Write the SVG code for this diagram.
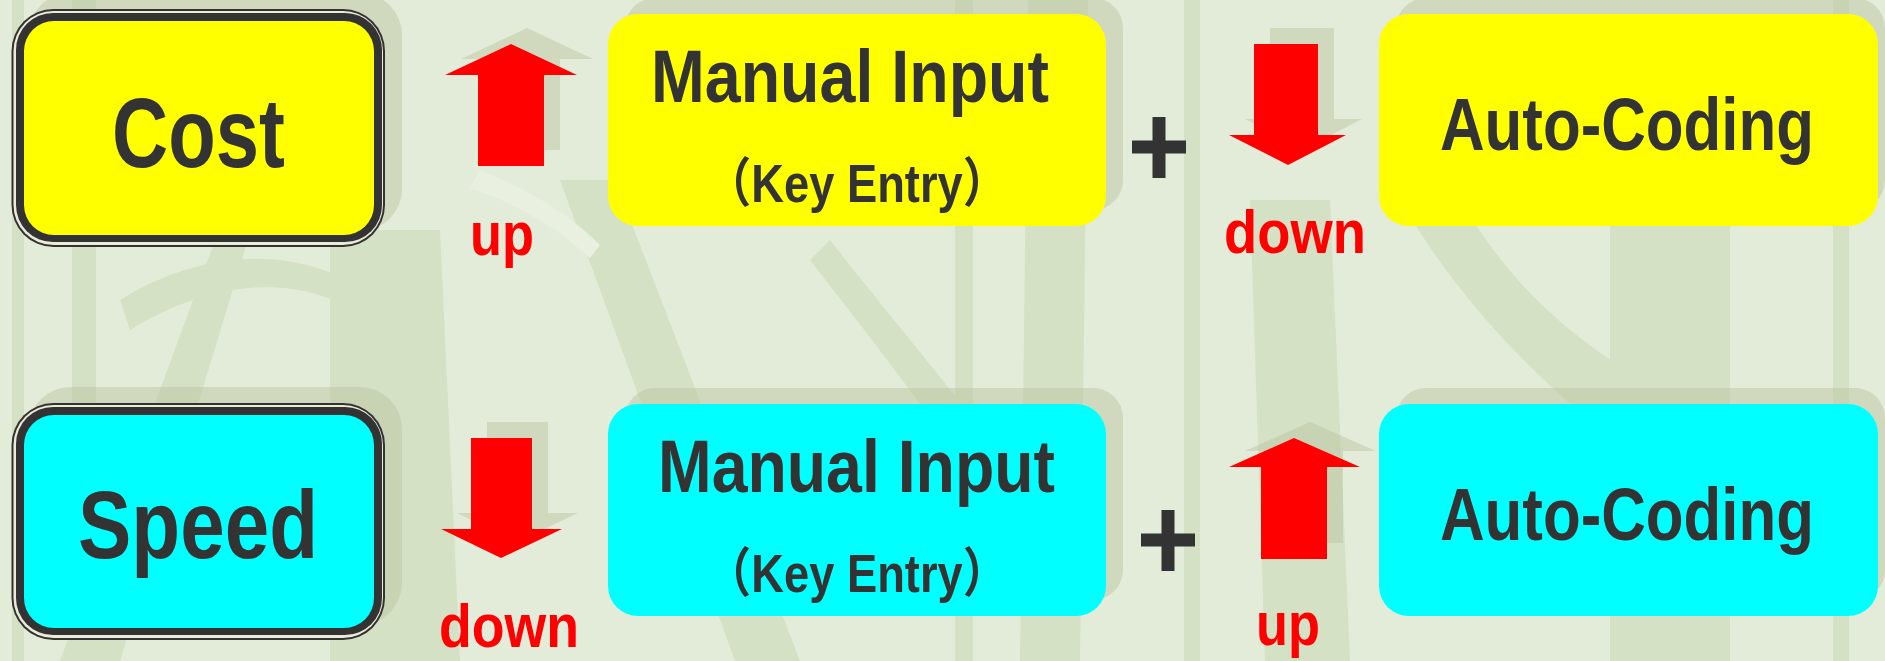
<svg xmlns="http://www.w3.org/2000/svg" width="1885" height="661" viewBox="0 0 1885 661">
<style>
.bg{fill:#e3ecd8}
.st{fill:#d5e1c4}
.lt{fill:#e9f0e0}
.sh{fill:#b7c39f;opacity:.45}
.yel{fill:#ffff00}
.cyn{fill:#00ffff}
.dk{fill:#333333}
.cream{fill:#ecebd6}
.lbl{font-family:"Liberation Sans Narrow","Liberation Sans",Arial,"Noto Sans CJK SC",sans-serif;font-weight:bold;fill:#333333}
.red{font-family:"Liberation Sans Narrow","Liberation Sans",Arial,sans-serif;font-weight:bold;fill:#ff0000;font-size:62px}
.arr{fill:#ff0000}
.plus{stroke:#333333;stroke-width:13;fill:none}
</style>
<g id="background">
<rect class="bg" x="0" y="0" width="1885" height="661"/>
<rect class="st" x="12" y="0" width="12" height="661"/>
<path class="st" d="M72 0 L96 0 L96 661 L72 661 Z"/>
<path class="st" d="M230 200 L260 200 L120 661 L60 661 Z"/>
<path class="st" d="M330 230 L440 230 L460 661 L330 661 Z"/>
<path class="st" d="M560 180 L615 180 L800 661 L735 661 Z"/>
<path class="lt" d="M480 170 C530 190 570 215 600 245 L590 258 C560 230 520 205 470 188 Z"/>
<rect class="st" x="955" y="0" width="18" height="661"/>
<path class="st" d="M1028 0 L1088 0 L1080 661 L1020 661 Z"/>
<rect class="st" x="1184" y="0" width="16" height="661"/>
<path class="st" d="M1250 200 L1330 200 L1350 661 L1265 661 Z"/>
<path class="st" d="M1400 200 L1460 200 C1520 300 1580 340 1640 380 L1640 460 C1560 400 1470 320 1400 200 Z"/>
<rect class="st" x="1610" y="200" width="120" height="461"/>
<rect class="st" x="1833" y="0" width="16" height="661"/>
<path class="st" d="M120 300 C200 250 300 240 380 300 L370 320 C300 270 210 280 130 330 Z"/>
<path class="st" d="M830 240 C900 330 980 420 1030 500 L1000 520 C950 440 880 350 810 260 Z"/>
</g>
<g id="shadows">
<rect class="sh" x="28.5" y="-7" width="373.5" height="238" rx="42"/>
<rect class="sh" x="625" y="-2" width="498" height="212" rx="30"/>
<rect class="sh" x="1396" y="-2" width="489" height="212" rx="30"/>
<rect class="sh" x="28.5" y="387" width="373.5" height="238" rx="42"/>
<rect class="sh" x="625" y="388" width="498" height="212" rx="30"/>
<rect class="sh" x="1396" y="388" width="489" height="212" rx="30"/>
<path class="sh" d="M527 28 L593 59 L560 59 L560 150 L494 150 L494 59 L461 59 Z"/>
<path class="sh" d="M1270 28 L1334 28 L1334 119 L1362 119 L1304 149 L1245 119 L1270 119 Z"/>
<path class="sh" d="M487 422 L548 422 L548 513 L578 513 L517 542 L457 513 L487 513 Z"/>
<path class="sh" d="M1310 422 L1376 451 L1343 451 L1343 543 L1277 543 L1277 451 L1245 451 Z"/>
</g>
<g id="node-cost">
<rect class="dk" x="11.5" y="9" width="373.5" height="238" rx="42"/>
<rect class="cream" x="13.5" y="11" width="369.5" height="234" rx="40"/>
<rect class="dk" x="16" y="13" width="366" height="229" rx="37"/>
<rect class="yel" x="24" y="21" width="350" height="214" rx="30"/>
<text class="lbl" x="112" y="167" font-size="98" textLength="173" lengthAdjust="spacingAndGlyphs">Cost</text>
</g>
<g id="node-speed">
<rect class="dk" x="11.5" y="403" width="373.5" height="237" rx="42"/>
<rect class="cream" x="13.5" y="405" width="369.5" height="233" rx="40"/>
<rect class="dk" x="16" y="407" width="366" height="228" rx="37"/>
<rect class="cyn" x="24" y="415" width="350" height="213" rx="30"/>
<text class="lbl" x="78" y="558" font-size="96" textLength="240" lengthAdjust="spacingAndGlyphs">Speed</text>
</g>
<g id="node-manual-top">
<rect class="yel" x="608" y="14" width="498" height="212" rx="30"/>
<text class="lbl" x="651" y="102" font-size="75" textLength="398" lengthAdjust="spacingAndGlyphs">Manual Input</text>
<text class="lbl" x="706" y="202" font-size="53" textLength="302" lengthAdjust="spacingAndGlyphs">（Key Entry）</text>
</g>
<g id="node-auto-top">
<rect class="yel" x="1379" y="14" width="499" height="212" rx="30"/>
<text class="lbl" transform="scale(0.84,1)" x="1714.3" y="150" font-size="75" textLength="445.2" lengthAdjust="spacingAndGlyphs">Auto-Coding</text>
</g>
<g id="node-manual-bottom">
<rect class="cyn" x="608" y="404" width="498" height="212" rx="30"/>
<text class="lbl" x="658" y="492" font-size="75" textLength="397" lengthAdjust="spacingAndGlyphs">Manual Input</text>
<text class="lbl" x="706" y="592" font-size="53" textLength="302" lengthAdjust="spacingAndGlyphs">（Key Entry）</text>
</g>
<g id="node-auto-bottom">
<rect class="cyn" x="1379" y="404" width="499" height="212" rx="30"/>
<text class="lbl" transform="scale(0.84,1)" x="1714.3" y="540" font-size="75" textLength="445.2" lengthAdjust="spacingAndGlyphs">Auto-Coding</text>
</g>
<g id="connectors">
<path class="plus" d="M1132 147 H1186 M1159 117 V178"/>
<path class="plus" d="M1141 540 H1195 M1168 510 V571"/>
<path class="arr" d="M511 44 L577 75 L544 75 L544 166 L478 166 L478 75 L445 75 Z"/>
<text class="red" x="470" y="255" textLength="64" lengthAdjust="spacingAndGlyphs">up</text>
<path class="arr" d="M1254 44 L1318 44 L1318 135 L1346 135 L1288 165 L1229 135 L1254 135 Z"/>
<text class="red" x="1224" y="253" textLength="142" lengthAdjust="spacingAndGlyphs">down</text>
<path class="arr" d="M471 438 L532 438 L532 529 L562 529 L501 558 L441 529 L471 529 Z"/>
<text class="red" x="439" y="647" textLength="140" lengthAdjust="spacingAndGlyphs">down</text>
<path class="arr" d="M1294 438 L1360 467 L1327 467 L1327 559 L1261 559 L1261 467 L1229 467 Z"/>
<text class="red" x="1256" y="645" textLength="64" lengthAdjust="spacingAndGlyphs">up</text>
</g>
</svg>
